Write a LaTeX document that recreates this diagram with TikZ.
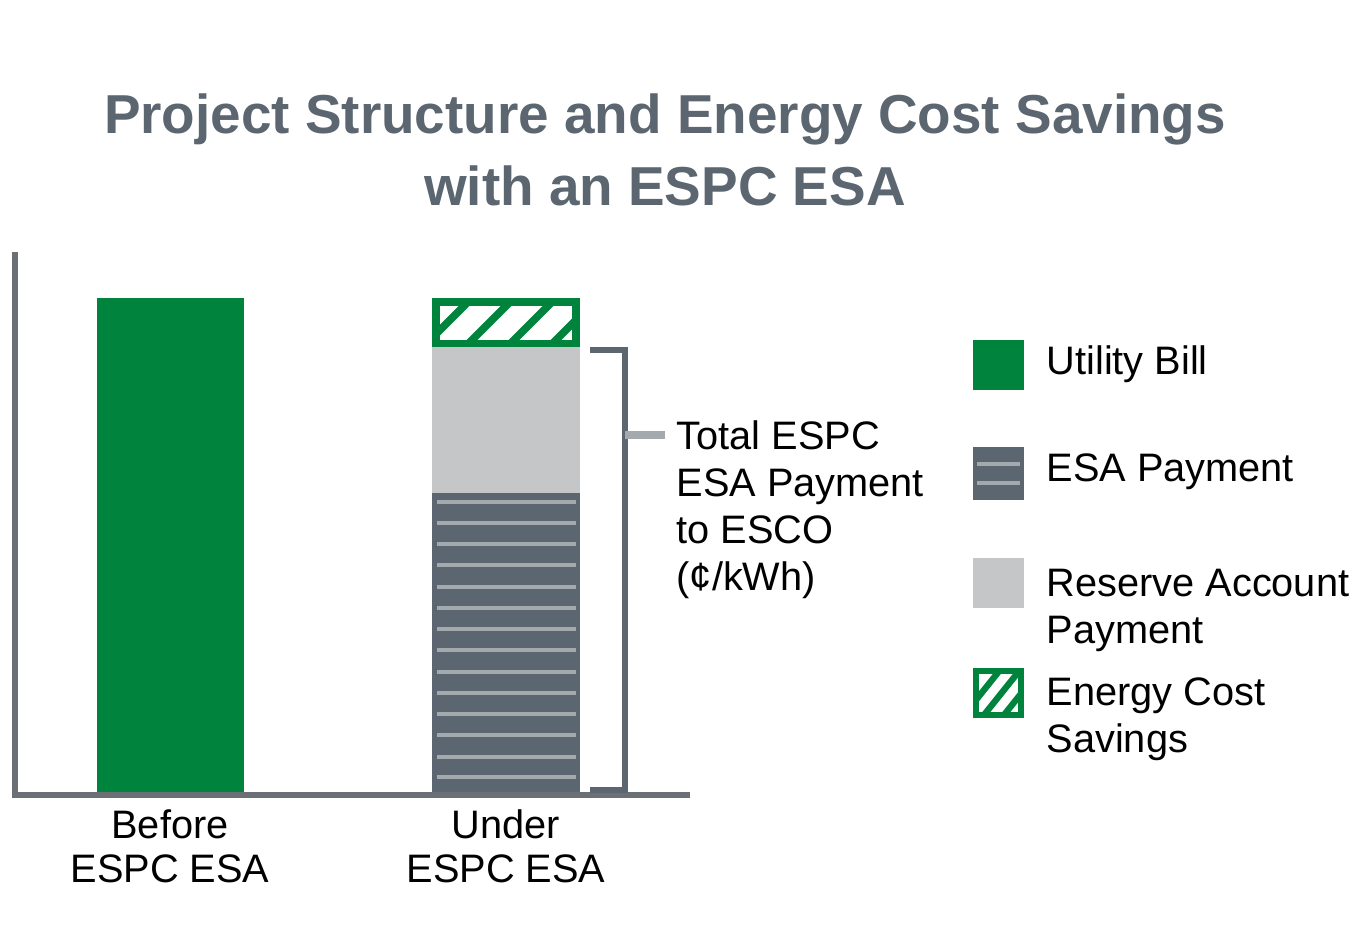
\documentclass[tikz,border=0pt]{standalone}
\usepackage{fontspec}
\setmainfont{Liberation Sans}
\definecolor{gr}{HTML}{00843D}
\definecolor{dk}{HTML}{5B6670}
\definecolor{lg}{HTML}{C4C6C8}
\definecolor{st}{HTML}{A4A9AE}
\tikzset{lbl/.style={anchor=west,font=\fontsize{11.3}{13.4}\selectfont,text=black,inner sep=0pt},
 barcap/.style={align=center,font=\fontsize{11.3}{12.6}\selectfont,inner sep=0pt}}
\begin{document}
\begin{tikzpicture}[x=0.01cm,y=-0.01cm]
\useasboundingbox (0,0) rectangle (1350,946);
\node[text=dk,font=\bfseries\fontsize{15.6}{20.7}\selectfont,align=center] (t) at (665,150) {Project Structure and Energy Cost Savings\\with an ESPC ESA};
% bar 1
\fill[gr] (97,298) rectangle (244,795);
% bar 2
\fill[dk] (432,493) rectangle (580,795);
\foreach \y in {502,523,544,565,587,608,629,650,672,693,714,735,757,777}
  \draw[st,line width=1.2pt] (437,\y) -- (576,\y);
\fill[lg] (432,347) rectangle (580,493);
\fill[gr] (432,298) rectangle (580,347);
\begin{scope}
\clip (440,306) rectangle (572,340);
\fill[white] (440,306) rectangle (572,340);
\foreach \x in {440,482,524,566} \draw[gr,line width=2.2pt] (\x-20,350) -- (\x+30,300);
\end{scope}
% axes
\draw[dk!60!gray,line width=1.5pt] (15,252) -- (15,795) -- (690,795);
% bracket
\coordinate (b1) at (590,350); \coordinate (b2) at (590,790); \coordinate (tk) at (665,435);
\draw[dk,line width=1.5pt] (b1) -- (625,350) -- (625,790) -- (b2);
\draw[st,line width=2pt] (625,435) -- (tk);
\node[lbl,align=left,anchor=north west] (br) at (676,420) {Total ESPC\\ESA Payment\\to ESCO\\(¢/kWh)};
\node[barcap] (c1) at (170,846) {Before\\ESPC ESA};
\node[barcap] (c2) at (506,846) {Under\\ESPC ESA};
% legend
\fill[gr] (973,340) rectangle (1024,390);
\node[lbl] (l1) at (1046,364) {Utility Bill};
\fill[dk] (973,447) rectangle (1024,500);
\draw[st,line width=1.2pt] (977,464) -- (1020,464) (977,483) -- (1020,483);
\node[lbl] (l2) at (1046,472) {ESA Payment};
\fill[lg] (973,558) rectangle (1024,608);
\node[lbl,align=left,anchor=north west] (l3) at (1046,568) {Reserve Account\\Payment};
\fill[gr] (973,668) rectangle (1024,718);
\begin{scope}
\clip (979,674) rectangle (1018,712);
\fill[white] (979,674) rectangle (1018,712);
\foreach \x in {975,995,1015} \draw[gr,line width=1.8pt] (\x-15,720) -- (\x+25,670);
\end{scope}
\node[lbl,align=left,anchor=north west] (l4) at (1046,677) {Energy Cost\\Savings};
\end{tikzpicture}
\end{document}
